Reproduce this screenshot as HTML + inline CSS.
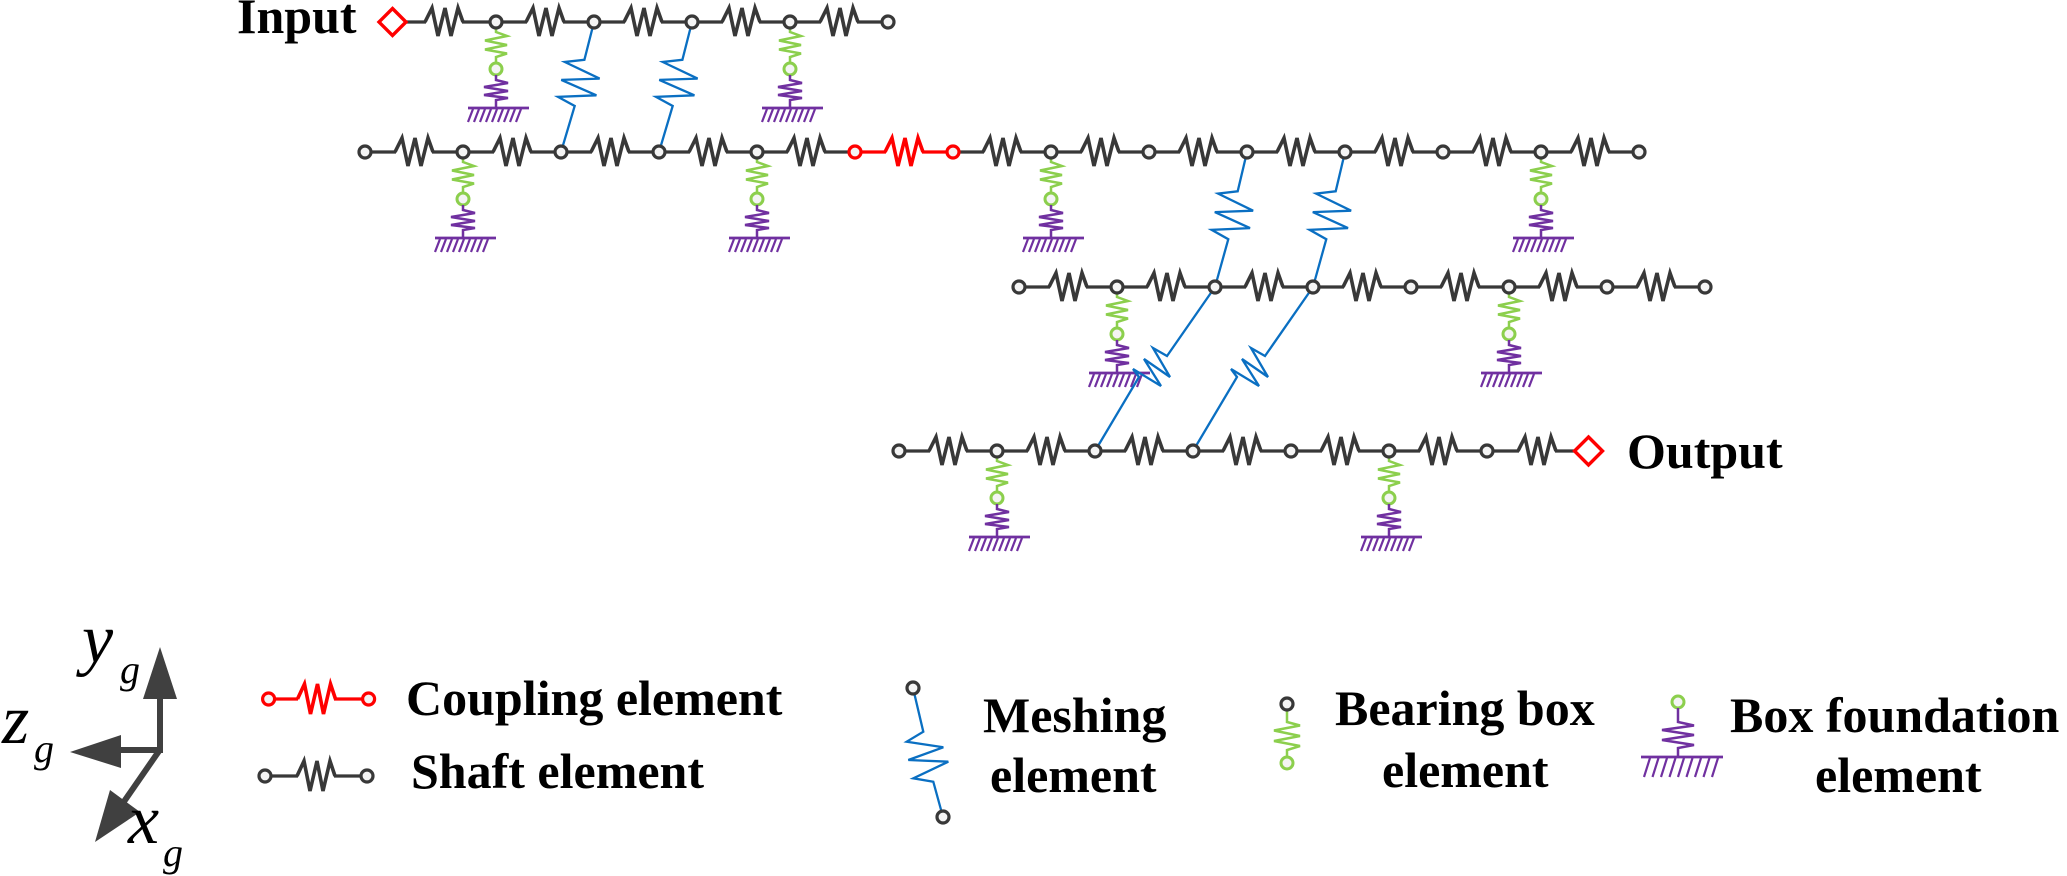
<!DOCTYPE html>
<html>
<head>
<meta charset="utf-8">
<style>
html,body{margin:0;padding:0;background:#fff;}
svg{display:block;}
</style>
</head>
<body>
<svg width="2067" height="876" viewBox="0 0 2067 876" xmlns="http://www.w3.org/2000/svg">
<defs>
  <path id="zz" d="M-19,0 L-12,-14 L-6,14 L1,-14 L7,14 L14,-14 L19,0" fill="none"/>
  <g id="sp"><rect x="-18" y="-3" width="36" height="6" fill="#fff" stroke="none"/><use href="#zz"/></g>
  <path id="zzl" d="M-19,0 L-12,-15 L-6,15 L1,-15 L7,15 L14,-15 L19,0" fill="none"/>
  <circle id="nd" r="6" fill="#f4f4f4"/>
  <g id="brg" fill="none">
    <path d="M0,6 V10 L11,14 L-11,18.5 L11,23 L-11,27.5 L11,31.5 L0,35 V41" stroke="#8ccf4d" stroke-width="2.5"/>
    <circle cx="0" cy="47" r="6" fill="#f4f4f4" stroke="#8ccf4d" stroke-width="3"/>
    <path d="M0,53 V58 L12,61 L-12,65 L12,69 L-12,73 L12,76 L0,78 V86" stroke="#7030a0" stroke-width="2.5"/>
    <path d="M-28,86 H33" stroke="#7030a0" stroke-width="2.8"/>
    <path d="M-28,100 L-23,87 M-22,100 L-17,87 M-16,100 L-11,87 M-10,100 L-5,87 M-4,100 L1,87 M2,100 L7,87 M8,100 L13,87 M14,100 L19,87 M20,100 L25,87" stroke="#7030a0" stroke-width="2.2"/>
  </g>
</defs>

<!-- ===== Row 1 ===== -->
<path d="M406,22 H888" stroke="#383838" stroke-width="3.2"/>
<g stroke="#383838" stroke-width="3.6" stroke-linejoin="miter">
  <use href="#sp" x="444" y="22"/><use href="#sp" x="545" y="22"/><use href="#sp" x="643" y="22"/>
  <use href="#sp" x="741" y="22"/><use href="#sp" x="839" y="22"/>
</g>
<polygon points="392.5,8.5 406,22 392.5,35.5 379,22" fill="#fff" stroke="#ff0000" stroke-width="3.4"/>

<!-- ===== Row 2 ===== -->
<path d="M365,152 H855 M953,152 H1639" stroke="#383838" stroke-width="3.2"/>
<path d="M855,152 H953" stroke="#ff0000" stroke-width="3.2"/>
<g stroke="#383838" stroke-width="3.6">
  <use href="#sp" x="414" y="152"/><use href="#sp" x="512" y="152"/><use href="#sp" x="610" y="152"/>
  <use href="#sp" x="708" y="152"/><use href="#sp" x="806" y="152"/>
  <use href="#sp" x="1002" y="152"/><use href="#sp" x="1100" y="152"/><use href="#sp" x="1198" y="152"/>
  <use href="#sp" x="1296" y="152"/><use href="#sp" x="1394" y="152"/><use href="#sp" x="1492" y="152"/>
  <use href="#sp" x="1590" y="152"/>
</g>
<g stroke="#ff0000" stroke-width="3.6"><use href="#sp" x="904" y="152"/></g>

<!-- ===== Row 3 ===== -->
<path d="M1019,287 H1705" stroke="#383838" stroke-width="3.2"/>
<g stroke="#383838" stroke-width="3.6">
  <use href="#sp" x="1068" y="287"/><use href="#sp" x="1166" y="287"/><use href="#sp" x="1264" y="287"/>
  <use href="#sp" x="1362" y="287"/><use href="#sp" x="1460" y="287"/><use href="#sp" x="1558" y="287"/>
  <use href="#sp" x="1656" y="287"/>
</g>

<!-- ===== Row 4 ===== -->
<path d="M899,451 H1575" stroke="#383838" stroke-width="3.2"/>
<g stroke="#383838" stroke-width="3.6">
  <use href="#sp" x="948" y="451"/><use href="#sp" x="1046" y="451"/><use href="#sp" x="1144" y="451"/>
  <use href="#sp" x="1242" y="451"/><use href="#sp" x="1340" y="451"/><use href="#sp" x="1438" y="451"/>
  <use href="#sp" x="1537" y="451"/>
</g>
<polygon points="1588.5,437 1602.5,451 1588.5,465 1574.5,451" fill="#fff" stroke="#ff0000" stroke-width="3.4"/>

<!-- ===== Bearings ===== -->
<use href="#brg" transform="translate(496,22)"/>
<use href="#brg" transform="translate(790,22)"/>
<use href="#brg" transform="translate(463,152)"/>
<use href="#brg" transform="translate(757,152)"/>
<use href="#brg" transform="translate(1051,152)"/>
<use href="#brg" transform="translate(1541,152)"/>
<use href="#brg" transform="translate(1117,287)"/>
<use href="#brg" transform="translate(1509,287)"/>
<use href="#brg" transform="translate(997,451)"/>
<use href="#brg" transform="translate(1389,451)"/>

<!-- ===== Meshing elements ===== -->
<g fill="none" stroke="#0a6fc2" stroke-width="2.3" stroke-linejoin="miter">
  <polyline points="594,22 584.4,59.8 564.8,62 599.6,78.6 561.3,79.9 596.4,95.3 558,96.9 574.7,106 561,152"/>
  <polyline points="692,22 682.4,59.8 662.8,62 697.6,78.6 659.3,79.9 694.4,95.3 656,96.9 672.7,106 659,152"/>
  <polyline points="1247,152 1237.7,191.3 1218.1,193.6 1253.1,210.7 1214.8,212.1 1250,228.1 1211.6,229.8 1228.3,239.2 1215,287"/>
  <polyline points="1345,152 1335.7,191.3 1316.1,193.6 1351.1,210.7 1312.8,212.1 1348,228.1 1309.6,229.8 1326.3,239.2 1313,287"/>
  <polyline points="1215,287 1167,356 1153,348 1170,377 1144,359 1161,386 1133,369 1139,377 1095,451"/>
  <polyline points="1313,287 1265,356 1251,348 1268,377 1242,359 1259,386 1231,369 1237,377 1193,451"/>
</g>

<!-- ===== Nodes ===== -->
<g stroke="#383838" stroke-width="3.2">
  <use href="#nd" x="496" y="22"/><use href="#nd" x="594" y="22"/><use href="#nd" x="692" y="22"/>
  <use href="#nd" x="790" y="22"/><use href="#nd" x="888" y="22"/>

  <use href="#nd" x="365" y="152"/><use href="#nd" x="463" y="152"/><use href="#nd" x="561" y="152"/>
  <use href="#nd" x="659" y="152"/><use href="#nd" x="757" y="152"/>
  <use href="#nd" x="1051" y="152"/><use href="#nd" x="1149" y="152"/><use href="#nd" x="1247" y="152"/>
  <use href="#nd" x="1345" y="152"/><use href="#nd" x="1443" y="152"/><use href="#nd" x="1541" y="152"/>
  <use href="#nd" x="1639" y="152"/>

  <use href="#nd" x="1019" y="287"/><use href="#nd" x="1117" y="287"/><use href="#nd" x="1215" y="287"/>
  <use href="#nd" x="1313" y="287"/><use href="#nd" x="1411" y="287"/><use href="#nd" x="1509" y="287"/>
  <use href="#nd" x="1607" y="287"/><use href="#nd" x="1705" y="287"/>

  <use href="#nd" x="899" y="451"/><use href="#nd" x="997" y="451"/><use href="#nd" x="1095" y="451"/>
  <use href="#nd" x="1193" y="451"/><use href="#nd" x="1291" y="451"/><use href="#nd" x="1389" y="451"/>
  <use href="#nd" x="1487" y="451"/>
</g>
<g stroke="#ff0000" stroke-width="3.2">
  <use href="#nd" x="855" y="152"/><use href="#nd" x="953" y="152"/>
</g>

<!-- ===== Labels Input / Output ===== -->
<text x="237" y="33" font-family="'Liberation Serif', serif" font-weight="bold" font-size="50" fill="#000">Input</text>
<text x="1627" y="468" font-family="'Liberation Serif', serif" font-weight="bold" font-size="50" fill="#000">Output</text>

<!-- ===== Coordinate axes ===== -->
<g fill="#404040" stroke="none">
  <rect x="157" y="696" width="6" height="57"/>
  <rect x="118" y="747" width="45" height="6"/>
  <polygon points="143,699 177,699 160,647"/>
  <polygon points="121,735 121,768 70,752"/>
  <polygon points="110,790 140,812 95,842"/>
</g>
<path d="M159,751 L123,803" stroke="#404040" stroke-width="6" fill="none"/>
<g font-family="'Liberation Serif', serif" font-style="italic" fill="#000">
  <text x="82" y="662" font-size="70">y</text>
  <text x="120" y="683" font-size="40">g</text>
  <text x="2" y="743" font-size="70">z</text>
  <text x="34" y="762" font-size="40">g</text>
  <text x="128" y="843" font-size="70">x</text>
  <text x="163" y="866" font-size="40">g</text>
</g>

<!-- ===== Legend: coupling / shaft ===== -->
<path d="M268.6,699 H368.6" stroke="#ff0000" stroke-width="3.2"/>
<g stroke="#ff0000" stroke-width="3.6"><rect x="298" y="696" width="36" height="6" fill="#fff" stroke="none"/><use href="#zzl" x="316.5" y="699"/></g>
<g stroke="#ff0000" stroke-width="3.2"><use href="#nd" x="268.6" y="699"/><use href="#nd" x="368.6" y="699"/></g>

<path d="M265,776 H367" stroke="#383838" stroke-width="3.2"/>
<g stroke="#383838" stroke-width="3.6"><rect x="298" y="773" width="36" height="6" fill="#fff" stroke="none"/><use href="#zzl" x="316" y="776"/></g>
<g stroke="#383838" stroke-width="3.2"><use href="#nd" x="265" y="776"/><use href="#nd" x="367" y="776"/></g>

<g font-family="'Liberation Serif', serif" font-weight="bold" font-size="50" fill="#000">
  <text x="406" y="715">Coupling element</text>
  <text x="411" y="788">Shaft element</text>
</g>

<!-- ===== Legend: meshing ===== -->
<polyline points="913,688 923.3,731.7 906.7,741.7 943.3,747.3 908.3,760 948.3,761.7 913.3,778.3 933.3,781.7 943,817" fill="none" stroke="#0a6fc2" stroke-width="2.3"/>
<g stroke="#383838" stroke-width="3.2"><use href="#nd" x="913" y="688"/><use href="#nd" x="943" y="817"/></g>
<g font-family="'Liberation Serif', serif" font-weight="bold" font-size="50" fill="#000">
  <text x="983" y="732">Meshing</text>
  <text x="990" y="792">element</text>
</g>

<!-- ===== Legend: bearing box ===== -->
<path d="M1287,710 V722 L1300,725.5 L1274,730.5 L1300,736 L1274,741 L1300,746 L1287,750 V757" fill="none" stroke="#8ccf4d" stroke-width="2.5"/>
<circle cx="1287" cy="763" r="6" fill="#f4f4f4" stroke="#8ccf4d" stroke-width="3"/>
<g stroke="#383838" stroke-width="3.2"><use href="#nd" x="1287" y="704"/></g>
<g font-family="'Liberation Serif', serif" font-weight="bold" font-size="50" fill="#000">
  <text x="1335" y="725">Bearing box</text>
  <text x="1382" y="787">element</text>
</g>

<!-- ===== Legend: box foundation ===== -->
<circle cx="1678" cy="702" r="6" fill="#f4f4f4" stroke="#8ccf4d" stroke-width="3"/>
<path d="M1678,708 V722 L1694,725.5 L1662,730 L1694,735 L1662,740 L1694,745 L1678,748 V757" fill="none" stroke="#7030a0" stroke-width="2.5"/>
<path d="M1641,757 H1723" stroke="#7030a0" stroke-width="2.8"/>
<path d="M1644,777 L1650,758 M1652.5,777 L1658.5,758 M1661,777 L1667,758 M1669.5,777 L1675.5,758 M1678,777 L1684,758 M1686.5,777 L1692.5,758 M1695,777 L1701,758 M1703.5,777 L1709.5,758 M1712,777 L1718,758" stroke="#7030a0" stroke-width="2.2" fill="none"/>
<g font-family="'Liberation Serif', serif" font-weight="bold" font-size="50" fill="#000">
  <text x="1730" y="732">Box foundation</text>
  <text x="1815" y="792">element</text>
</g>
</svg>
</body>
</html>
